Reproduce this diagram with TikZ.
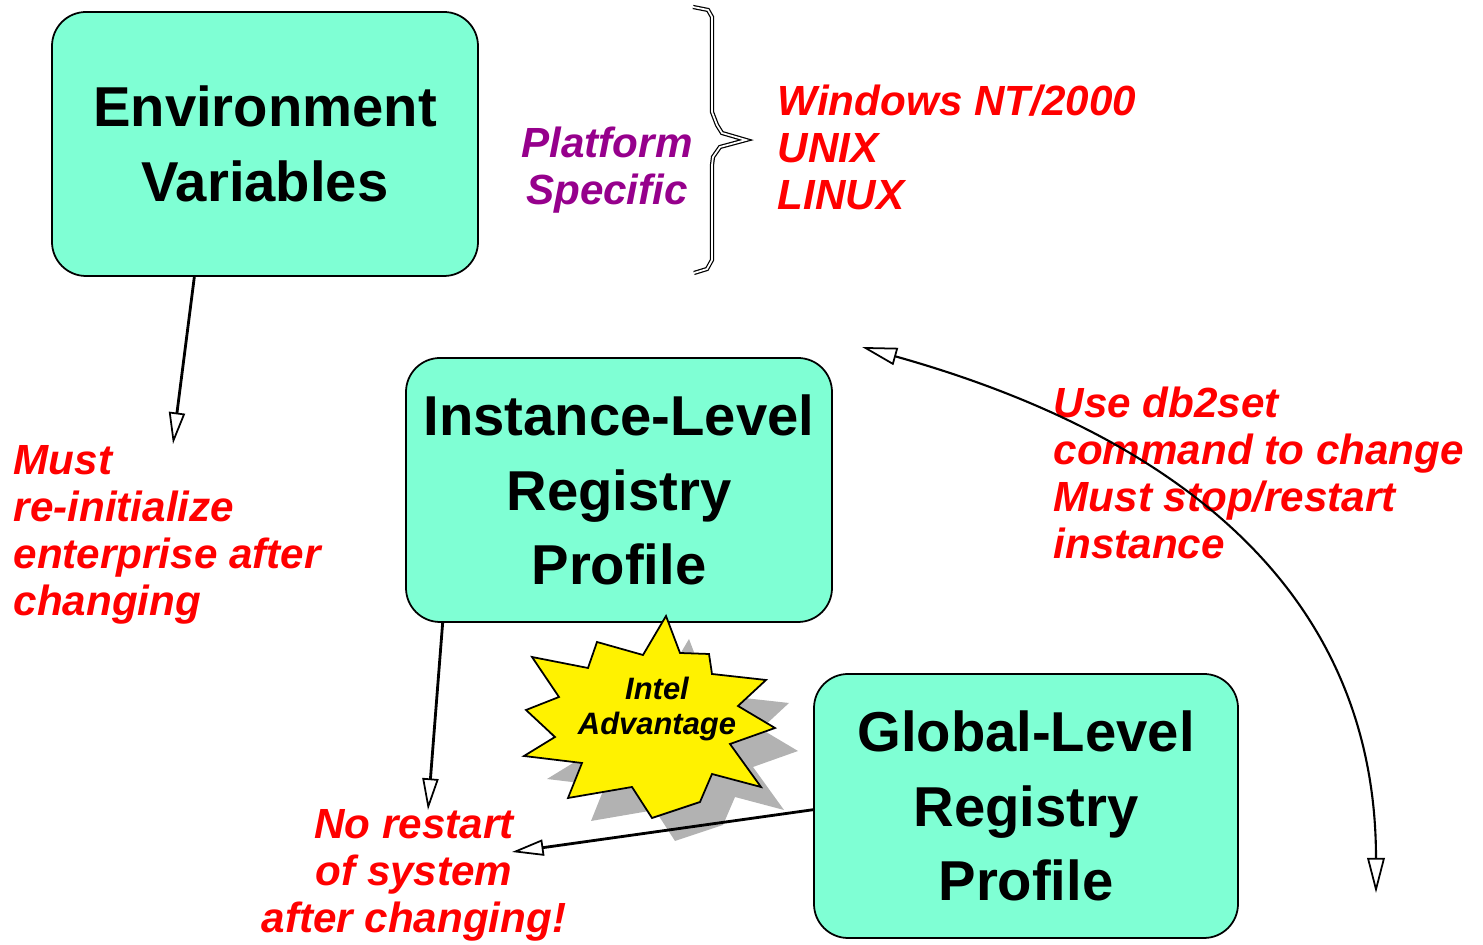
\documentclass[tikz,border=0pt]{standalone}
\usepackage{fontspec}
\setmainfont{Liberation Sans}
\usetikzlibrary{arrows.meta}
\definecolor{aqua}{RGB}{127,255,212}
\definecolor{plum}{RGB}{150,0,140}
\definecolor{shade}{RGB}{178,178,178}

\begin{document}
\begin{tikzpicture}[box/.style = {draw, line width=0.5pt, fill=aqua, rounded corners=0.34cm, minimum width=4.26cm, minimum height=2.64cm, align=center, font=\fontsize{16}{21.3}\selectfont\bfseries},
		note/.style = {red, inner sep=0pt, font=\fontsize{12}{13.4}\selectfont\bfseries\itshape},
		link/.style = {line width=0.8pt, -{Triangle[open, length=9pt, width=4.6pt, line width=0.5pt]}},
		twoway/.style = {line width=0.6pt, {Triangle[open, length=10pt, width=5pt, line width=0.5pt]}-{Triangle[open, length=10pt, width=5pt, line width=0.5pt]}},
		curly/.style = {double, double distance=0.5pt, line width=0.35pt},
		burst/.pic = {\path[pic actions] (0.16,1.00) -- (0.30,0.63) -- (0.59,0.62) -- (0.62,0.42) -- (1.16,0.36) -- (0.88,0.10) -- (1.25,-0.12) -- (0.80,-0.28) -- (1.11,-0.71) -- (0.62,-0.58) -- (0.50,-0.86) -- (0.02,-1.02) -- (-0.18,-0.71) -- (-0.82,-0.82) -- (-0.68,-0.47) -- (-1.26,-0.40) -- (-0.95,-0.21) -- (-1.24,0.06) -- (-0.91,0.19) -- (-1.18,0.59) -- (-0.62,0.48) -- (-0.53,0.74) -- (-0.07,0.61) -- cycle;}]
			\useasboundingbox (0,0) rectangle (14.83,-9.45);
			\node[box] (1) at (2.65,-1.44) {Environment\\Variables};
			\node[box] (2) at (6.19,-4.90) {Instance-Level\\Registry\\Profile};
			\node[box, minimum width=4.24cm] (3) at (10.26,-8.06) {Global-Level\\Registry\\Profile};
			\pic[fill=shade] at (6.73,-7.39) {burst};
			\pic[fill=yellow, draw, line width=0.5pt] at (6.50,-7.16) {burst};
			\node[inner sep=0pt, align=center, anchor=north, font=\fontsize{8.8}{10}\selectfont\bfseries\itshape] (9) at (6.57,-6.76) {Intel\\Advantage};
			\node[note, align=left, anchor=north west] (4) at (0.13,-4.45) {Must\\re-initialize\\enterprise after\\changing};
			\node[note, align=center, anchor=north] (5) at (4.14,-8.09) {No restart\\of system\\after changing!};
			\node[note, align=left, anchor=north west] (6) at (10.53,-3.86) {Use db2set\\command to change\\Must stop/restart\\instance};
			\node[note, plum, align=center, anchor=north] (7) at (6.07,-1.26) {Platform\\Specific};
			\node[note, align=left, anchor=north west] (8) at (7.77,-0.84) {Windows NT/2000\\UNIX\\LINUX};
			\coordinate (10) at (1.73,-4.44);
			\coordinate (11) at (4.28,-8.10);
			\coordinate (12) at (5.12,-8.52);
			\coordinate (13) at (8.62,-3.47);
			\coordinate (14) at (13.76,-8.93);
			\draw[link] (1.-118) -- (10);
			\draw[link] (2.-143) -- (11);
			\draw[link] (3.181.6) -- (12);
			\draw[twoway] (13) .. controls (11.79,-4.36) and (13.76,-5.93) .. (14);
			\draw[curly] (6.93,-0.07) -- (7.08,-0.10) -- (7.12,-0.17) -- (7.12,-1.12) -- (7.17,-1.25) -- (7.22,-1.33) -- (7.46,-1.40) -- (7.20,-1.47) -- (7.13,-1.57) -- (7.12,-1.65) -- (7.12,-2.60) -- (7.07,-2.69) -- (6.94,-2.73);
		\end{tikzpicture}
\end{document}
